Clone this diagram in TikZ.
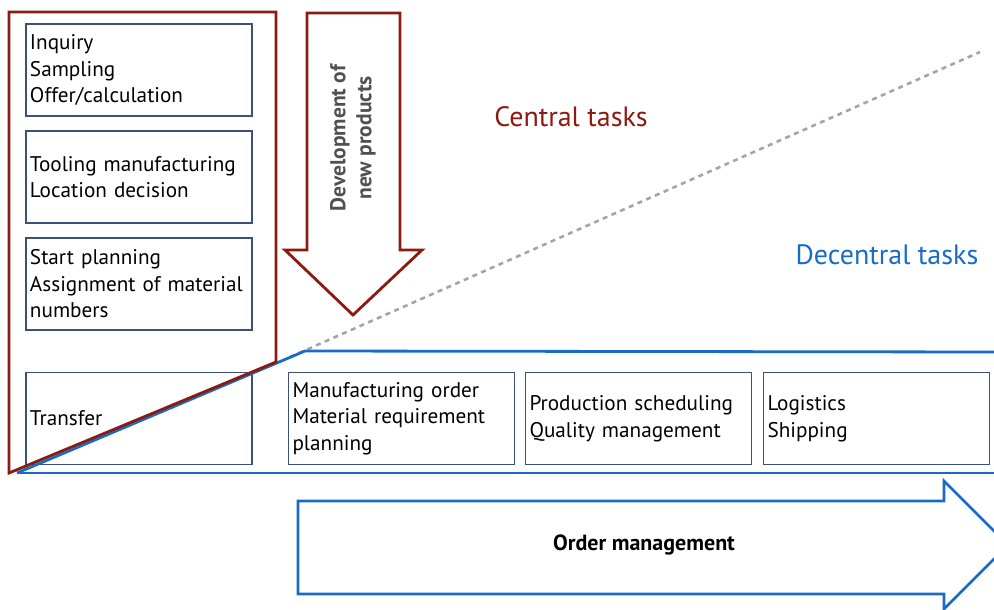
\documentclass[tikz,border=0pt]{standalone}
\usepackage{fontspec}
\setmainfont{PT Sans}
\usetikzlibrary{positioning}
\definecolor{centralred}{RGB}{139,26,16}
\definecolor{decentralblue}{RGB}{24,108,200}
\definecolor{boxline}{RGB}{60,80,120}
\definecolor{dashgray}{RGB}{165,165,165}
\definecolor{labelgray}{RGB}{80,80,80}
\tikzset{
  taskbox/.style={draw=boxline, line width=1.1pt, minimum width=226pt, minimum height=92pt,
    text width=218pt, align=left, inner sep=4pt, font=\fontsize{21.2}{26.5}\selectfont},
  redline/.style={draw=centralred, line width=2.8pt, line join=miter},
  blueline/.style={draw=decentralblue, line width=2.8pt, line join=miter},
  heading/.style={font=\fontsize{28}{32}\selectfont, anchor=center}
}
\begin{document}
\begin{tikzpicture}[x=1pt,y=-1pt]
\useasboundingbox (0,0) rectangle (994,610);
\clip (0,0) rectangle (994,610);

% dashed trend line separating central from decentral tasks
\coordinate (dashstart) at (290,357);
\coordinate (dashend) at (980,52);
\draw[dashgray, line width=2.6pt, dash pattern=on 5pt off 4.5pt] (dashstart) -- (dashend);

% task boxes
\node[taskbox] (inquiry) at (139,70) {Inquiry\\Sampling\\Offer/calculation};
\node[taskbox] (tooling) at (139,177) {Tooling manufacturing\\Location decision};
\node[taskbox] (start) at (139,284) {Start planning\\Assignment of material\\numbers};
\node[taskbox] (transfer) at (139,418.5) {Transfer};
\node[taskbox] (manuf) at (401.5,418.5) {Manufacturing order\\Material requirement\\planning};
\node[taskbox] (prod) at (638.5,418.5) {Production scheduling\\Quality management};
\node[taskbox] (logist) at (876.5,418.5) {Logistics\\Shipping};

% decentral region outline
\coordinate (bl) at (17,473);
\coordinate (bk) at (305,351);
\draw[blueline] (bl) -- (bk) -- (996,352);
\draw[blueline] (bl) -- (996,473);

% central region outline
\coordinate (ctl) at (9,12);
\coordinate (ctr) at (276,12);
\coordinate (cbr) at (276,362);
\coordinate (cbl) at (9,473);
\draw[redline] (ctl) -- (ctr) -- (cbr) -- (cbl) -- cycle;

% development arrow
\draw[redline, fill=white] (307,13) -- (400,13) -- (400,250) -- (422,250) -- (353,315)
  -- (285,250) -- (307,250) -- cycle;
\node[rotate=90, text=labelgray, font=\bfseries\fontsize{21.5}{26}\selectfont, align=center]
  (develop) at (353,138) {Development of\\new products};

% order management arrow
\draw[blueline, fill=white] (298,501) -- (944,501) -- (944,481) -- (1008,545)
  -- (944,609) -- (944,594) -- (298,594) -- cycle;
\node[font=\bfseries\fontsize{22}{26}\selectfont] (order) at (644,545) {Order management};

% region headings
\node[heading, text=centralred] (central) at (571,117) {Central tasks};
\node[heading, text=decentralblue] (decentral) at (887,255) {Decentral tasks};
\end{tikzpicture}
\end{document}
